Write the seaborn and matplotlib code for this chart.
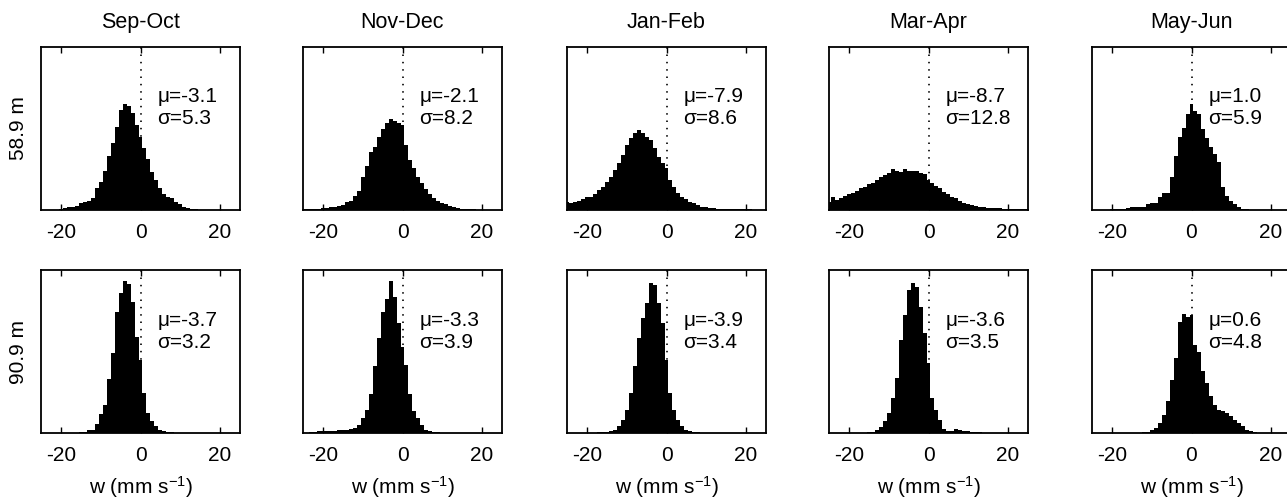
import numpy as np
import pandas as pd
import matplotlib
matplotlib.use("Agg")
import matplotlib.pyplot as plt
import seaborn as sns
from matplotlib.transforms import blended_transform_factory

# ---------------- data ----------------
seasons = ["Sep-Oct", "Nov-Dec", "Jan-Feb", "Mar-Apr", "May-Jun"]
depths = ["58.9 m", "90.9 m"]
bin_centers = list(range(-25, 26))  # w (mm s^-1), bin width 1

# relative frequency (arbitrary units), bins centred at -25 ... 25
sep_oct_58 = [0, 0, 0, 0, 1, 2, 6, 8, 8, 12,
              20, 24, 28, 35, 65, 85, 118, 162, 200, 250,
              300, 318, 312, 292, 255, 220, 185, 152, 115, 90,
              65, 47, 40, 35, 25, 18, 10, 5, 3, 2,
              1, 1, 0, 0, 0, 0, 0, 0, 0, 0, 0]
nov_dec_58 = [2, 2, 3, 3, 4, 5, 7, 10, 10, 13,
              16, 23, 28, 43, 58, 98, 133, 173, 188, 218,
              243, 263, 273, 268, 262, 255, 196, 150, 125, 100,
              80, 62, 48, 36, 28, 22, 18, 13, 9, 6,
              4, 3, 2, 2, 1, 1, 1, 0, 0, 0, 0]
jan_feb_58 = [25, 22, 23, 27, 32, 38, 40, 48, 60, 70,
              85, 100, 120, 140, 165, 195, 215, 230, 240, 230,
              220, 210, 185, 160, 140, 125, 90, 70, 52, 40,
              32, 25, 20, 15, 10, 8, 6, 5, 4, 4,
              3, 3, 3, 2, 2, 2, 2, 1, 1, 1, 1]
mar_apr_58 = [25, 40, 30, 35, 42, 48, 52, 58, 65, 70,
              78, 82, 90, 100, 105, 112, 122, 118, 114, 122,
              116, 116, 116, 112, 108, 90, 80, 72, 65, 55,
              48, 40, 35, 28, 22, 18, 14, 12, 10, 8,
              7, 6, 5, 5, 4, 4, 4, 3, 3, 3, 3]
may_jun_58 = [0, 0, 0, 0, 1, 2, 3, 3, 4, 6,
              8, 8, 10, 10, 18, 20, 20, 38, 50, 52,
              98, 163, 218, 248, 288, 318, 298, 288, 243, 215,
              190, 168, 143, 68, 43, 28, 18, 8, 3, 2,
              1, 0, 0, 0, 0, 0, 0, 0, 0, 0, 0]

sep_oct_91 = [0, 0, 0, 0, 0, 0, 0, 0, 0, 0,
              2, 4, 8, 10, 28, 58, 85, 162, 240, 365,
              420, 458, 448, 395, 288, 220, 120, 60, 35, 20,
              10, 5, 4, 2, 1, 0, 0, 0, 0, 0,
              0, 0, 0, 0, 0, 0, 0, 0, 0, 0, 0]
nov_dec_91 = [0, 0, 2, 4, 5, 5, 6, 7, 7, 9,
              10, 10, 13, 15, 25, 45, 70, 118, 202, 285,
              365, 402, 458, 410, 330, 260, 205, 118, 65, 45,
              25, 10, 5, 4, 2, 1, 1, 0, 0, 0,
              0, 0, 0, 0, 0, 0, 0, 0, 0, 0, 0]
jan_feb_91 = [0, 0, 0, 0, 0, 0, 0, 0, 2, 3,
              4, 6, 10, 20, 40, 70, 120, 200, 285, 345,
              390, 450, 445, 392, 330, 220, 120, 70, 40, 20,
              10, 5, 3, 2, 1, 0, 0, 0, 0, 0,
              0, 0, 0, 0, 0, 0, 0, 0, 0, 0, 0]
mar_apr_91 = [0, 0, 0, 0, 0, 0, 0, 0, 0, 0,
              2, 4, 8, 18, 35, 60, 105, 165, 280, 355,
              430, 450, 440, 380, 300, 210, 105, 70, 40, 12,
              5, 6, 12, 10, 7, 5, 4, 3, 2, 1,
              0, 0, 0, 0, 0, 0, 0, 0, 0, 0, 0]
may_jun_91 = [0, 0, 0, 0, 0, 0, 0, 0, 0, 0,
              0, 0, 1, 3, 4, 8, 15, 30, 55, 95,
              160, 225, 335, 358, 350, 355, 265, 245, 185, 150,
              110, 85, 70, 65, 60, 50, 40, 30, 20, 10,
              5, 2, 1, 0, 0, 0, 0, 0, 0, 0, 0]

hist_58 = [sep_oct_58, nov_dec_58, jan_feb_58, mar_apr_58, may_jun_58]
hist_91 = [sep_oct_91, nov_dec_91, jan_feb_91, mar_apr_91, may_jun_91]

mu_58 = [-3.1, -2.1, -7.9, -8.7, 1.0]
sigma_58 = [5.3, 8.2, 8.6, 12.8, 5.9]
mu_91 = [-3.7, -3.3, -3.9, -3.6, 0.6]
sigma_91 = [3.2, 3.9, 3.4, 3.5, 4.8]

xticks = [-20, 0, 20]
xticklabels = ["-20", "0", "20"]
xlabel = "w (mm s$^{-1}$)"

# ---------------- style ----------------
sns.set_style("ticks")
plt.rcParams["font.family"] = ["Liberation Sans", "DejaVu Sans"]
plt.rcParams["mathtext.fontset"] = "custom"
plt.rcParams["mathtext.rm"] = "Liberation Sans"
plt.rcParams["mathtext.it"] = "Liberation Sans:italic"
plt.rcParams["mathtext.bf"] = "Liberation Sans:bold"
plt.rcParams["axes.unicode_minus"] = False
plt.rcParams["text.color"] = "black"
plt.rcParams["axes.labelcolor"] = "black"
plt.rcParams["xtick.color"] = "black"
plt.rcParams["ytick.color"] = "black"

W, H = 1287, 503
fig = plt.figure(figsize=(W / 100, H / 100), dpi=100)

lefts_px = [41, 303, 567, 829, 1092]
width_px = 199
rows_px = [(47, 210), (270, 433)]  # (top, bottom)

FS = 15

for r, (hists, mus, sigs) in enumerate([(hist_58, mu_58, sigma_58),
                                         (hist_91, mu_91, sigma_91)]):
    top, bot = rows_px[r]
    for c in range(5):
        ax = fig.add_axes([lefts_px[c] / W, 1 - bot / H,
                           width_px / W, (bot - top) / H])
        df = pd.DataFrame({"w": bin_centers, "freq": hists[c]})
        sns.histplot(data=df, x="w", weights="freq",
                     binwidth=1, binrange=(-25.5, 25.5),
                     element="step", fill=True, color="black", alpha=1,
                     linewidth=0, ax=ax)
        ax.axvline(0, color="black", lw=1.2, ls=(0, (0.9, 3.5)), zorder=0.5)
        ax.set_xlim(-25, 25)
        ax.set_ylim(0, 490)
        ax.set_yticks([])
        ax.set_xticks(xticks)
        ax.set_xticklabels(xticklabels)
        ax.tick_params(axis="x", direction="in", top=True, bottom=True,
                       length=4, width=1, labelsize=FS, pad=9.5,
                       colors="black")
        for s in ax.spines.values():
            s.set_visible(True)
            s.set_linewidth(1.3)
            s.set_color("black")
        ax.set_ylabel("")
        ax.set_xlabel("")
        tr = blended_transform_factory(ax.transData, ax.transAxes)
        yb = 0.665 if r == 0 else 0.657
        ax.text(4.3, yb, f"\u03bc={mus[c]:.1f}", transform=tr,
                fontsize=FS, va="baseline", ha="left", color="black")
        ax.text(4.3, yb - 0.137, f"\u03c3={sigs[c]:.1f}", transform=tr,
                fontsize=FS, va="baseline", ha="left", color="black")
        if r == 0:
            ax.set_title(seasons[c], fontsize=15.5, pad=14, color="black")
        else:
            ax.set_xlabel(xlabel, fontsize=FS, labelpad=6.5)
        if c == 0:
            ax.set_ylabel(depths[r], fontsize=FS, labelpad=9.5)

fig.savefig("out.png", dpi=100)
